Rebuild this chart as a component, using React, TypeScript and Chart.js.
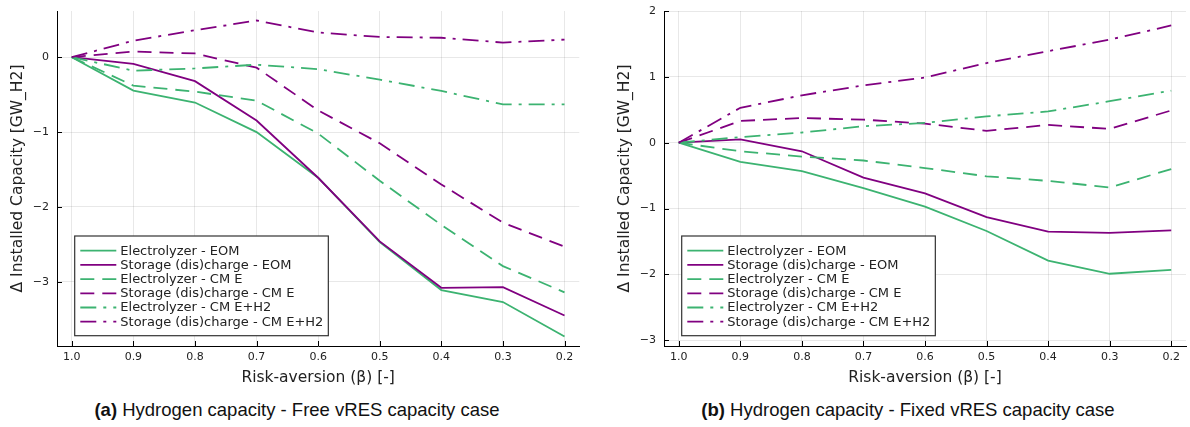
import React, { useEffect, useRef } from "react";
import { Chart, registerables } from "chart.js";

Chart.register(...registerables);
Chart.defaults.font.family = "'DejaVu Sans', sans-serif";

// ---------------- data ----------------
const riskAversion = [1.0, 0.9, 0.8, 0.7, 0.6, 0.5, 0.4, 0.3, 0.2];

const seriesNames = [
  "Electrolyzer - EOM",
  "Storage (dis)charge - EOM",
  "Electrolyzer - CM E",
  "Storage (dis)charge - CM E",
  "Electrolyzer - CM E+H2",
  "Storage (dis)charge - CM E+H2",
];

// (a) Free vRES capacity case
const freeElectrolyzerEOM = [0, -0.445, -0.605, -1.0, -1.61, -2.47, -3.11, -3.27, -3.73];
const freeStorageEOM = [0, -0.09, -0.32, -0.845, -1.61, -2.46, -3.08, -3.07, -3.45];
const freeElectrolyzerCME = [0, -0.38, -0.46, -0.58, -1.02, -1.65, -2.24, -2.79, -3.14];
const freeStorageCME = [0, 0.075, 0.05, -0.14, -0.71, -1.15, -1.7, -2.21, -2.53];
const freeElectrolyzerCMEH2 = [0, -0.18, -0.15, -0.1, -0.16, -0.3, -0.45, -0.63, -0.63];
const freeStorageCMEH2 = [0, 0.22, 0.36, 0.49, 0.33, 0.27, 0.26, 0.195, 0.235];

// (b) Fixed vRES capacity case
const fixedElectrolyzerEOM = [0, -0.29, -0.43, -0.69, -0.97, -1.34, -1.79, -1.99, -1.93];
const fixedStorageEOM = [0, 0.05, -0.13, -0.53, -0.77, -1.13, -1.35, -1.37, -1.33];
const fixedElectrolyzerCME = [0, -0.13, -0.21, -0.27, -0.385, -0.51, -0.58, -0.68, -0.4];
const fixedStorageCME = [0, 0.33, 0.375, 0.35, 0.29, 0.18, 0.27, 0.21, 0.49];
const fixedElectrolyzerCMEH2 = [0, 0.085, 0.155, 0.25, 0.3, 0.4, 0.475, 0.63, 0.79];
const fixedStorageCMEH2 = [0, 0.53, 0.72, 0.87, 0.99, 1.21, 1.39, 1.565, 1.78];

const freeSeries = [
  freeElectrolyzerEOM, freeStorageEOM, freeElectrolyzerCME,
  freeStorageCME, freeElectrolyzerCMEH2, freeStorageCMEH2,
];
const fixedSeries = [
  fixedElectrolyzerEOM, fixedStorageEOM, fixedElectrolyzerCME,
  fixedStorageCME, fixedElectrolyzerCMEH2, fixedStorageCMEH2,
];

const xLimits = [0.176, 1.024];
const xTickStep = 0.1;
const yTickStep = 1;
const freeYLimits = [-3.857, 0.617];
const fixedYLimits = [-3.087, 2.0];

const xTitle = "Risk-aversion (β) [-]";
const yTitle = "Δ Installed Capacity [GW_H2]";
const captionTags = ["(a)", "(b)"];
const captionTexts = [
  "Hydrogen capacity - Free vRES capacity case",
  "Hydrogen capacity - Fixed vRES capacity case",
];

// ---------------- styles ----------------
const GREEN = "rgb(60,179,113)";
const PURPLE = "rgb(128,0,128)";
const seriesColors = [GREEN, PURPLE, GREEN, PURPLE, GREEN, PURPLE];
const DASH = [14, 8];
const DASHDOT = [16, 7, 3, 7];
const seriesDashes = [[], [], DASH, DASH, DASHDOT, DASHDOT];
const TEXT = "#222";

const inwardTicks = {
  id: "inwardTicks",
  afterDraw(chart: any) {
    const { ctx, chartArea, scales } = chart;
    ctx.save();
    ctx.strokeStyle = "#000";
    ctx.lineWidth = 1;
    ctx.setLineDash([]);
    ctx.beginPath();
    scales.x.ticks.forEach((t: any) => {
      const px = Math.round(scales.x.getPixelForValue(t.value)) + 0.5;
      ctx.moveTo(px, chartArea.bottom);
      ctx.lineTo(px, chartArea.bottom - 5);
    });
    scales.y.ticks.forEach((t: any) => {
      const py = Math.round(scales.y.getPixelForValue(t.value)) + 0.5;
      ctx.moveTo(chartArea.left, py);
      ctx.lineTo(chartArea.left + 5, py);
    });
    ctx.stroke();
    ctx.restore();
  },
};

const juliaLegend = {
  id: "juliaLegend",
  afterDraw(chart: any) {
    const { ctx, chartArea } = chart;
    const ds = chart.data.datasets;
    ctx.save();
    ctx.font = "13px 'DejaVu Sans', sans-serif";
    const textW = Math.max(...ds.map((d: any) => ctx.measureText(d.label).width));
    const rowH = 14.2;
    const h = 99.7;
    const x0 = chartArea.left + 17.7;
    const y1 = chartArea.bottom - 10.3;
    const y0 = y1 - h;
    const w = 45.6 + textW + 5;
    ctx.fillStyle = "#fff";
    ctx.fillRect(x0, y0, w, h);
    ctx.strokeStyle = "#333";
    ctx.lineWidth = 1.2;
    ctx.setLineDash([]);
    ctx.strokeRect(x0, y0, w, h);
    ds.forEach((d: any, i: number) => {
      const cy = y0 + 14.7 + i * rowH;
      ctx.strokeStyle = d.borderColor;
      ctx.lineWidth = d.borderWidth;
      ctx.setLineDash(d.borderDash || []);
      ctx.beginPath();
      ctx.moveTo(x0 + 5.6, cy);
      ctx.lineTo(x0 + 41.6, cy);
      ctx.stroke();
      ctx.setLineDash([]);
      ctx.fillStyle = TEXT;
      ctx.textBaseline = "middle";
      ctx.textAlign = "left";
      ctx.fillText(d.label, x0 + 45.6, cy + 0.5);
    });
    ctx.restore();
  },
};

const minusFmt = (v: any) => {
  const n = Number(v);
  return n < 0 ? "\u2212" + Math.abs(n) : String(n);
};

const clearPadding = (s: any) => {
  s.paddingTop = 0;
  s.paddingBottom = 0;
  s.paddingLeft = 0;
  s.paddingRight = 0;
};

function Panel(props: {
  series: number[][];
  yLim: number[];
  left: number;
  width: number;
  padLeft: number;
  padRight: number;
}) {
  const ref = useRef<HTMLCanvasElement>(null);
  useEffect(() => {
    const n = props.series.length;
    const chart = new Chart(ref.current as HTMLCanvasElement, {
      type: "line",
      data: {
        datasets: props.series.map((vals, i) => ({
          label: seriesNames[i],
          data: riskAversion.map((x, j) => ({ x, y: vals[j] })),
          borderColor: seriesColors[i],
          backgroundColor: seriesColors[i],
          borderWidth: 1.8,
          borderDash: seriesDashes[i],
          pointRadius: 0,
          fill: false,
          tension: 0,
          order: n - i,
        })),
      },
      options: {
        animation: false,
        responsive: false,
        layout: { autoPadding: false, padding: { left: props.padLeft, right: props.padRight, top: 11, bottom: 0 } },
        plugins: { legend: { display: false }, tooltip: { enabled: false } },
        scales: {
          x: {
            type: "linear",
            reverse: true,
            min: xLimits[0],
            max: xLimits[1],
            ticks: {
              stepSize: xTickStep,
              includeBounds: false,
              padding: 5,
              color: TEXT,
              font: { size: 11 },
              maxRotation: 0,
              autoSkip: false,
              callback: (v: any) => Number(v).toFixed(1),
            },
            grid: { color: "rgba(0,0,0,0.09)", lineWidth: 1, drawTicks: false },
            border: { display: true, color: "#000", width: 1 },
            title: {
              display: true,
              text: xTitle,
              color: TEXT,
              font: { size: 15.5 },
              padding: { top: 0, bottom: 7.7 },
            },
            afterFit: (s: any) => {
              s.height = 49;
              clearPadding(s);
            },
          },
          y: {
            type: "linear",
            min: props.yLim[0],
            max: props.yLim[1],
            ticks: {
              stepSize: yTickStep,
              includeBounds: false,
              padding: 8,
              color: TEXT,
              font: { size: 11 },
              callback: minusFmt,
            },
            grid: { color: "rgba(0,0,0,0.09)", lineWidth: 1, drawTicks: false },
            border: { display: true, color: "#000", width: 1 },
            title: {
              display: true,
              text: yTitle,
              color: TEXT,
              font: { size: 15.5 },
              padding: { top: 8.5, bottom: 0 },
            },
            afterFit: (s: any) => {
              s.width = 57;
              clearPadding(s);
            },
          },
        },
      } as any,
      plugins: [inwardTicks, juliaLegend],
    });
    return () => chart.destroy();
  }, []);
  return (
    <canvas
      ref={ref}
      width={props.width}
      height={395}
      style={{ position: "absolute", left: props.left, top: 0, width: props.width, height: 395 }}
    />
  );
}

const captionStyle: React.CSSProperties = {
  position: "absolute",
  top: 399,
  width: 500,
  textAlign: "center",
  fontFamily: "'Liberation Sans', Arial, sans-serif",
  fontSize: 18.5,
  lineHeight: "22px",
  color: "#111",
  whiteSpace: "nowrap",
};

export default function App() {
  return (
    <div
      style={{
        position: "absolute",
        left: 0,
        top: 0,
        width: 1190,
        height: 427,
        background: "#fff",
        overflow: "hidden",
      }}
    >
      <Panel series={freeSeries} yLim={freeYLimits} left={0} width={600} padLeft={0} padRight={20.7} />
      <Panel series={fixedSeries} yLim={fixedYLimits} left={600} width={590} padLeft={7} padRight={4} />
      <div style={{ ...captionStyle, left: 297 - 250 }}>
        <b>{captionTags[0]}</b> {captionTexts[0]}
      </div>
      <div style={{ ...captionStyle, left: 908 - 250 }}>
        <b>{captionTags[1]}</b> {captionTexts[1]}
      </div>
    </div>
  );
}
